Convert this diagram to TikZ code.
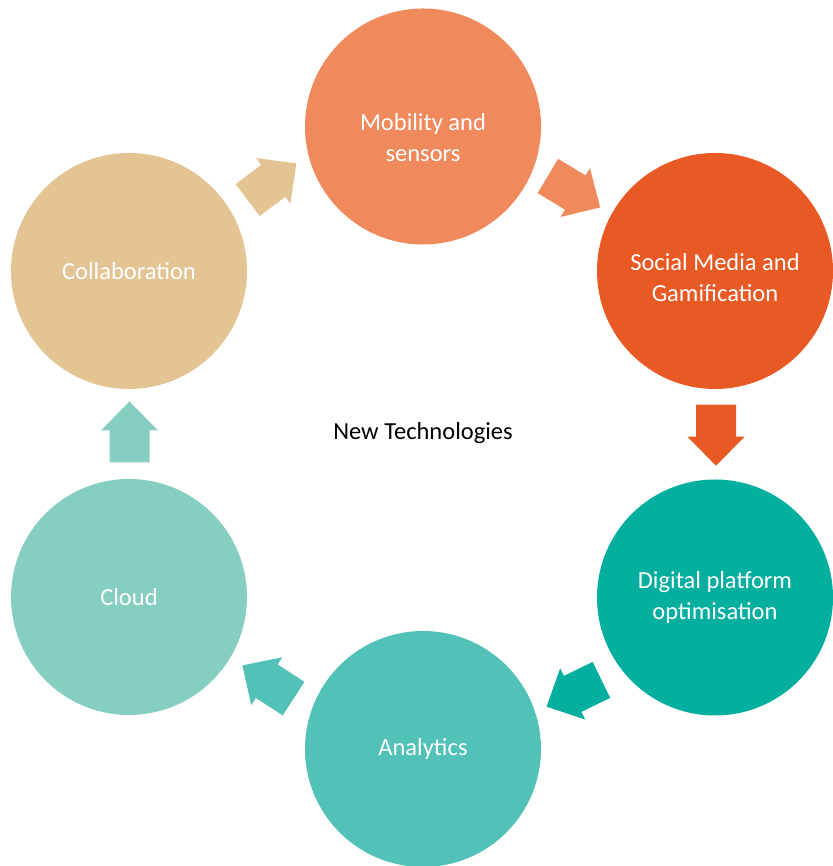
\documentclass[tikz,border=0pt]{standalone}
\usepackage{fontspec}
\setmainfont{Carlito}
\usepackage{xcolor}
\usepackage{tikz}
\usetikzlibrary{calc}

\definecolor{mobcol}{RGB}{240,138,93}
\definecolor{soccol}{RGB}{233,89,36}
\definecolor{digcol}{RGB}{4,175,160}
\definecolor{anacol}{RGB}{82,194,185}
\definecolor{cloudcol}{RGB}{134,206,192}
\definecolor{collabcol}{RGB}{227,196,147}

\tikzset{
  bubble/.style={
    circle,
    minimum size=236pt,
    inner sep=0pt,
    align=center,
    text=white,
    font=\fontsize{24.5}{31}\selectfont,
  },
  bubbletext/.style={
    align=center,
    text=white,
    font=\fontsize{24.5}{31}\selectfont,
  },
  pics/blockarrow/.style={
    code={
      \path[pic actions] (-30.5, -20) -- (1.5, -20) -- (1.5, -28.5) -- (30.5, 0)
        -- (1.5, 28.5) -- (1.5, 20) -- (-30.5, 20) -- cycle;
    }
  },
}

\begin{document}
\begin{tikzpicture}[x=1pt, y=1pt]
  \useasboundingbox (0, 0) rectangle (832, 866);
  \node[bubble, fill=mobcol]    (mob)    at (423, 739.5) {};
  \node[bubble, fill=soccol]    (soc)    at (715, 595)   {};
  \node[bubble, fill=digcol]    (dig)    at (715, 268.5) {Digital platform\\optimisation};
  \node[bubble, fill=anacol]    (ana)    at (423, 117)   {Analytics};
  \node[bubble, fill=cloudcol]  (cloud)  at (129, 269)   {Cloud};
  \node[bubble, fill=collabcol] (collab) at (129, 595)   {Collaboration};
  \node[bubbletext] (mobtext) at ([yshift=-11]mob.center) {Mobility and\\sensors};
  \node[bubbletext] (soctext) at ([yshift=-7]soc.center) {Social Media and\\Gamification};
  \node[font=\fontsize{24.5}{31}\selectfont] (title) at (423, 433) {New Technologies};

  \pic[fill=collabcol, rotate=37]  at ($(collab)!0.5!(mob)+(-4, 17)$)  {blockarrow};
  \pic[fill=mobcol, rotate=-31]    at ($(mob)!0.5!(soc)+(5, 7)$)       {blockarrow};
  \pic[fill=soccol, rotate=-90]    at ($(soc)!0.5!(dig)+(1, -1)$)      {blockarrow};
  \pic[fill=digcol, rotate=206]    at ($(dig)!0.5!(ana)+(5, -20)$)     {blockarrow};
  \pic[fill=anacol, rotate=147]    at ($(ana)!0.5!(cloud)+(-8, -9)$)   {blockarrow};
  \pic[fill=cloudcol, rotate=90]   at ($(cloud)!0.5!(collab)+(0.5, 2)$) {blockarrow};
\end{tikzpicture}
\end{document}
